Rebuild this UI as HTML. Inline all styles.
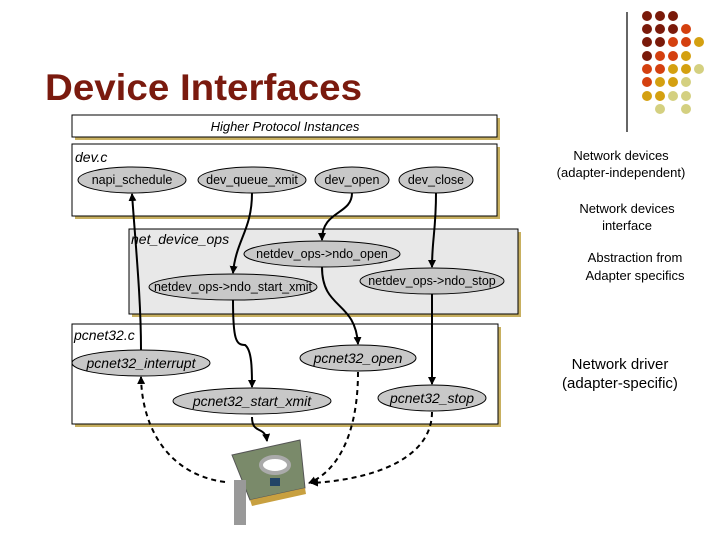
<!DOCTYPE html>
<html><head><meta charset="utf-8"><style>
html,body{margin:0;padding:0;background:#fff;}
svg{display:block;}
text{font-family:"Liberation Sans",sans-serif;}
</style></head><body>
<svg width="720" height="540" viewBox="0 0 720 540" xmlns="http://www.w3.org/2000/svg">
<defs>
<marker id="a" markerWidth="8" markerHeight="8" refX="7" refY="4" orient="auto" markerUnits="userSpaceOnUse"><path d="M0,0 L8,4 L0,8 z" fill="#000"/></marker>
</defs>
<text x="45" y="100" font-size="37" font-weight="bold" fill="#7a1a0e" textLength="317" lengthAdjust="spacingAndGlyphs">Device Interfaces</text>
<line x1="627" y1="12" x2="627" y2="132" stroke="#000" stroke-width="1.2"/>
<g>
<circle cx="647" cy="16" r="5" fill="#7a1a0a"/><circle cx="660" cy="16" r="5" fill="#7a1a0a"/><circle cx="673" cy="16" r="5" fill="#7a1a0a"/>
<circle cx="647" cy="29" r="5" fill="#7a1a0a"/><circle cx="660" cy="29" r="5" fill="#7a1a0a"/><circle cx="673" cy="29" r="5" fill="#7a1a0a"/><circle cx="686" cy="29" r="5" fill="#d4400f"/>
<circle cx="647" cy="42" r="5" fill="#7a1a0a"/><circle cx="660" cy="42" r="5" fill="#7a1a0a"/><circle cx="673" cy="42" r="5" fill="#d4400f"/><circle cx="686" cy="42" r="5" fill="#d4400f"/><circle cx="699" cy="42" r="5" fill="#d4a010"/>
<circle cx="647" cy="56" r="5" fill="#7a1a0a"/><circle cx="660" cy="56" r="5" fill="#d4400f"/><circle cx="673" cy="56" r="5" fill="#d4400f"/><circle cx="686" cy="56" r="5" fill="#d4a010"/>
<circle cx="647" cy="69" r="5" fill="#d4400f"/><circle cx="660" cy="69" r="5" fill="#d4400f"/><circle cx="673" cy="69" r="5" fill="#d4a010"/><circle cx="686" cy="69" r="5" fill="#d4a010"/><circle cx="699" cy="69" r="5" fill="#d4d080"/>
<circle cx="647" cy="82" r="5" fill="#d4400f"/><circle cx="660" cy="82" r="5" fill="#d4a010"/><circle cx="673" cy="82" r="5" fill="#d4a010"/><circle cx="686" cy="82" r="5" fill="#d4d080"/>
<circle cx="647" cy="96" r="5" fill="#d4a010"/><circle cx="660" cy="96" r="5" fill="#d4a010"/><circle cx="673" cy="96" r="5" fill="#d4d080"/><circle cx="686" cy="96" r="5" fill="#d4d080"/>
<circle cx="660" cy="109" r="5" fill="#d4d080"/><circle cx="686" cy="109" r="5" fill="#d4d080"/>
</g>
<!-- boxes -->
<rect x="75" y="118" width="425" height="22" fill="#c8b060"/>
<rect x="72" y="115" width="425" height="22" fill="#fff" stroke="#000"/>
<text x="285" y="131" font-size="13" font-style="italic" text-anchor="middle">Higher Protocol Instances</text>
<rect x="75" y="147" width="425" height="72" fill="#c8b060"/>
<rect x="72" y="144" width="425" height="72" fill="#fff" stroke="#000"/>
<text x="75" y="162" font-size="14" font-style="italic">dev.c</text>
<rect x="132" y="232" width="389" height="85" fill="#c8b060"/>
<rect x="129" y="229" width="389" height="85" fill="#e8e8e8" stroke="#000"/>
<text x="131" y="244" font-size="14" font-style="italic">net_device_ops</text>
<rect x="75" y="327" width="426" height="100" fill="#c8b060"/>
<rect x="72" y="324" width="426" height="100" fill="#fff" stroke="#000"/>
<text x="74" y="340" font-size="14" font-style="italic">pcnet32.c</text>
<!-- connectors -->
<g fill="none" stroke="#000" stroke-width="2">
<path d="M141,350 C141,300 136,250 132,194" marker-end="url(#a)"/>
<path d="M252,193 C252,230 236,240 233,273" marker-end="url(#a)"/>
<path d="M233,300 C233,340 236,345 245,345 C252,350 252,370 252,387" marker-end="url(#a)"/>
<path d="M352,193 C352,215 322,210 322,240" marker-end="url(#a)"/>
<path d="M322,267 C322,310 355,300 358,344" marker-end="url(#a)"/>
<path d="M436,193 C436,230 432,240 432,267" marker-end="url(#a)"/>
<path d="M432,294 L432,384" marker-end="url(#a)"/>
<path d="M252,417 C252,435 265,425 267,441" marker-end="url(#a)"/>
</g>
<g fill="none" stroke="#000" stroke-width="2" stroke-dasharray="5,4">
<path d="M225,482 C170,475 142,430 141,377" marker-end="url(#a)"/>
<path d="M358,372 C358,430 340,470 309,483" marker-end="url(#a)"/>
<path d="M432,412 C432,460 370,480 311,483" marker-end="url(#a)"/>
</g>
<!-- ellipses -->
<g fill="#c8c8c8" stroke="#000" stroke-width="1">
<ellipse cx="132" cy="180" rx="54" ry="13"/>
<ellipse cx="252" cy="180" rx="54" ry="13"/>
<ellipse cx="352" cy="180" rx="37" ry="13"/>
<ellipse cx="436" cy="180" rx="37" ry="13"/>
<ellipse cx="322" cy="254" rx="78" ry="13"/>
<ellipse cx="233" cy="287" rx="84" ry="13"/>
<ellipse cx="432" cy="281" rx="72" ry="13"/>
<ellipse cx="141" cy="363" rx="69" ry="13"/>
<ellipse cx="358" cy="358" rx="58" ry="13"/>
<ellipse cx="252" cy="401" rx="79" ry="13"/>
<ellipse cx="432" cy="398" rx="54" ry="13"/>
</g>
<g font-size="12.5" text-anchor="middle">
<text x="132" y="184">napi_schedule</text>
<text x="252" y="184">dev_queue_xmit</text>
<text x="352" y="184">dev_open</text>
<text x="436" y="184">dev_close</text>
<text x="322" y="258">netdev_ops-&gt;ndo_open</text>
<text x="233" y="291">netdev_ops-&gt;ndo_start_xmit</text>
<text x="432" y="285">netdev_ops-&gt;ndo_stop</text>
</g>
<g font-size="14" font-style="italic" text-anchor="middle">
<text x="141" y="368">pcnet32_interrupt</text>
<text x="358" y="363">pcnet32_open</text>
<text x="252" y="406">pcnet32_start_xmit</text>
<text x="432" y="403">pcnet32_stop</text>
</g>
<!-- NIC -->
<g>
<polygon points="232,455 300,440 305,488 250,500" fill="#7a8a6a" stroke="#555"/>
<polygon points="250,500 305,488 306,494 252,506" fill="#c8a040"/>
<rect x="234" y="480" width="12" height="45" fill="#999"/>
<ellipse cx="275" cy="465" rx="14" ry="8" fill="#fff" stroke="#aaa" stroke-width="4"/>
<rect x="270" y="478" width="10" height="8" fill="#246"/>
</g>
<!-- right labels -->
<g font-size="13" text-anchor="middle">
<text x="621" y="160">Network devices</text>
<text x="621" y="177">(adapter-independent)</text>
<text x="627" y="213">Network devices</text>
<text x="627" y="230">interface</text>
<text x="635" y="262">Abstraction from</text>
<text x="635" y="280">Adapter specifics</text>
</g>
<g font-size="15" text-anchor="middle">
<text x="620" y="369">Network driver</text>
<text x="620" y="388">(adapter-specific)</text>
</g>
</svg>
</body></html>
